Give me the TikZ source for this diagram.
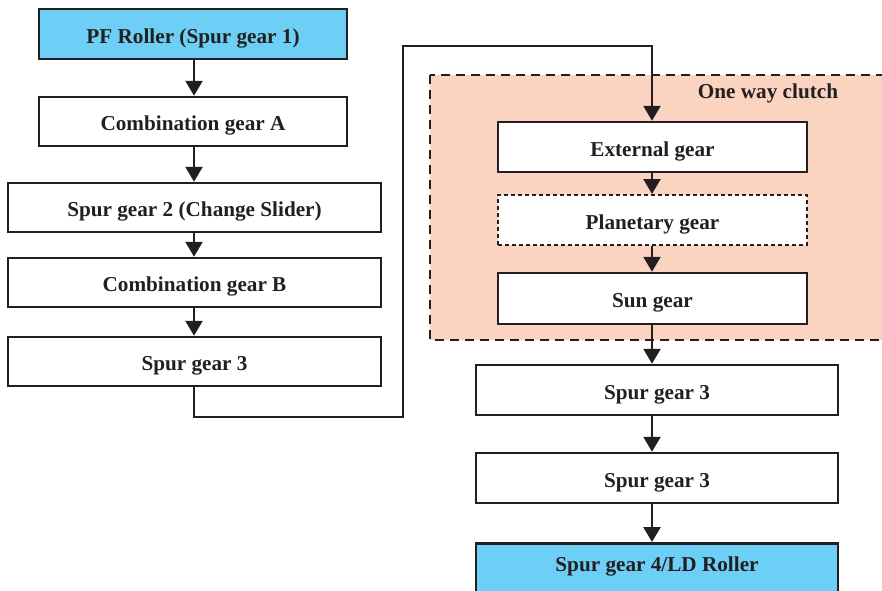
\documentclass[tikz,border=0pt]{standalone}
\usepackage{fontspec}
\setmainfont{Liberation Serif}
\usetikzlibrary{arrows.meta}
\definecolor{ink}{HTML}{231F20}
\definecolor{skyfill}{HTML}{6DCFF6}
\definecolor{peach}{HTML}{FBD3C1}
\tikzset{
  lbl/.style={inner sep=0pt, text height=20pt, text depth=2pt,
    font=\fontsize{21.2}{25}\selectfont\bfseries, text=ink},
  gbox/.style={lbl, draw=ink, line width=2.5pt, rectangle, fill=white},
  arr/.style={draw=ink, line width=2.5pt, -{Triangle[width=17pt,length=15pt]}},
}
\begin{document}
\begin{tikzpicture}[x=1pt,y=-1pt]
\useasboundingbox (0,0) rectangle (882,590);
\fill[white] (0,0) rectangle (882,590);
% one way clutch region
\path[fill=peach, draw=ink, line width=2.5pt, dash pattern=on 9pt off 6pt] (430,75) rectangle (895,340);
\node[lbl] (owc) at (768,89) {One way clutch};
% left column
\node[gbox, fill=skyfill, minimum width=308pt, minimum height=50pt] (pf) at (193,34) {PF Roller (Spur gear 1)};
\node[gbox, minimum width=308pt, minimum height=49pt] (ca) at (193,121.5) {Combination gear A};
\node[gbox, minimum width=373pt, minimum height=49pt] (s2) at (194.5,207.5) {Spur gear 2 (Change Slider)};
\node[gbox, minimum width=373pt, minimum height=49pt] (cb) at (194.5,282.5) {Combination gear B};
\node[gbox, minimum width=373pt, minimum height=49pt] (s3l) at (194.5,361.5) {Spur gear 3};
% right column
\node[gbox, minimum width=309pt, minimum height=50pt] (ext) at (652.5,147) {External gear};
\node[gbox, dash pattern=on 4pt off 3pt, line width=2pt, minimum width=309pt, minimum height=50pt] (pl) at (652.5,220) {Planetary gear};
\node[gbox, minimum width=309pt, minimum height=51pt] (sun) at (652.5,298.5) {Sun gear};
\node[gbox, minimum width=362pt, minimum height=50pt] (s3a) at (657,390) {Spur gear 3};
\node[gbox, minimum width=362pt, minimum height=50pt] (s3b) at (657,478) {Spur gear 3};
\node[draw=ink, line width=2.5pt, fill=skyfill, minimum width=362pt, minimum height=56pt, anchor=north, inner sep=0pt] (s4) at (657,542) {};
\node[lbl] (s4t) at (657,562) {Spur gear 4/LD Roller};
% arrows left
\draw[arr] (pf.south -| 194,0) -- (ca.north -| 194,0);
\draw[arr] (ca.south -| 194,0) -- (s2.north -| 194,0);
\draw[arr] (s2.south -| 194,0) -- (cb.north -| 194,0);
\draw[arr] (cb.south -| 194,0) -- (s3l.north -| 194,0);
% long connector
\coordinate (k1) at (403,417);
\coordinate (k2) at (403,46);
\draw[arr] (s3l.south -| 194,0) |- (k1) -- (k2) -| (ext.north -| 652,0);
% arrows right
\draw[arr] (ext.south -| 652,0) -- (pl.north -| 652,0);
\draw[arr] (pl.south -| 652,0) -- (sun.north -| 652,0);
\draw[arr] (sun.south -| 652,0) -- (s3a.north -| 652,0);
\draw[arr] (s3a.south -| 652,0) -- (s3b.north -| 652,0);
\draw[arr] (s3b.south -| 652,0) -- (s4.north -| 652,0);
\end{tikzpicture}
\end{document}
